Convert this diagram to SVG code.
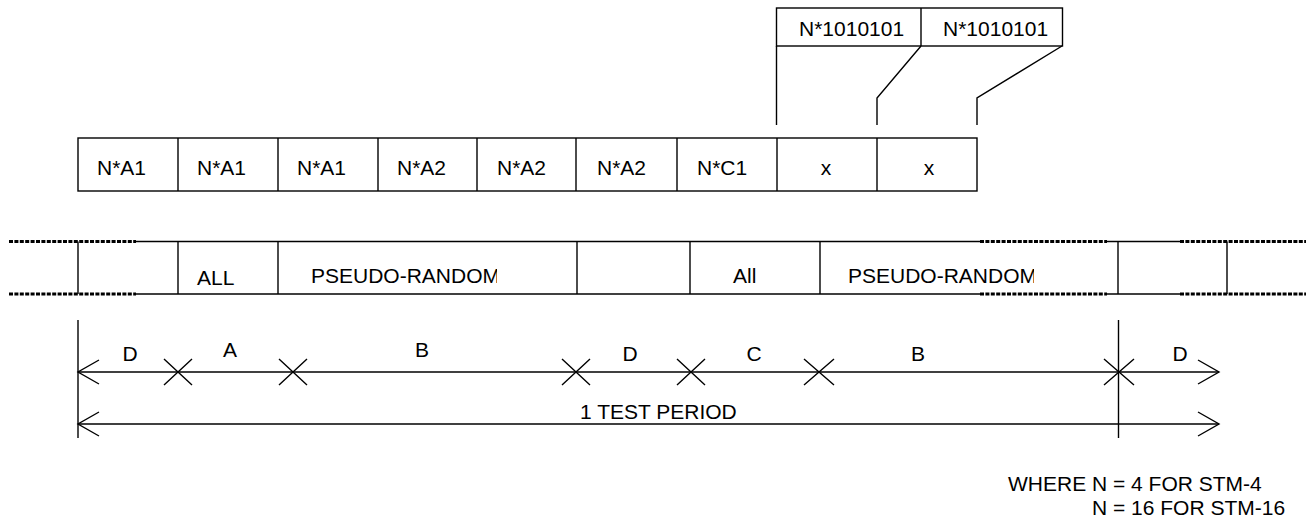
<svg xmlns="http://www.w3.org/2000/svg" width="1306" height="521" viewBox="0 0 1306 521">
<style>
  .ln { stroke: #000; stroke-width: 1.4; fill: none; }
  .dash { stroke: #000; stroke-width: 3; stroke-dasharray: 4 1.4; fill: none; }
  .box { stroke: #000; stroke-width: 1.4; fill: #fff; }
  text { font-family: "Liberation Sans", Arial, sans-serif; font-size: 21px; fill: #000; }
  .m { text-anchor: middle; }
</style>
<defs>
  <clipPath id="clipPR1"><rect x="300" y="250" width="197" height="40"/></clipPath>
  <clipPath id="clipPR2"><rect x="840" y="250" width="194" height="40"/></clipPath>
</defs>
<rect width="1306" height="521" fill="#fff"/>

<g id="pattern-boxes">
  <rect class="box" x="776.5" y="8" width="286" height="38"/>
  <line class="ln" x1="921" y1="8" x2="921" y2="46"/>
  <text x="799" y="36">N*1010101</text>
  <text x="943" y="36">N*1010101</text>
</g>

<g id="frame-row">
  <rect class="box" x="78" y="138" width="899" height="53"/>
  <line class="ln" x1="178" y1="138" x2="178" y2="191"/>
  <line class="ln" x1="278" y1="138" x2="278" y2="191"/>
  <line class="ln" x1="378" y1="138" x2="378" y2="191"/>
  <line class="ln" x1="477" y1="138" x2="477" y2="191"/>
  <line class="ln" x1="576" y1="138" x2="576" y2="191"/>
  <line class="ln" x1="677" y1="138" x2="677" y2="191"/>
  <line class="ln" x1="777" y1="138" x2="777" y2="191"/>
  <line class="ln" x1="877" y1="138" x2="877" y2="191"/>
  <text x="97" y="175">N*A1</text>
  <text x="197" y="175">N*A1</text>
  <text x="297" y="175">N*A1</text>
  <text x="397" y="175">N*A2</text>
  <text x="497" y="175">N*A2</text>
  <text x="597" y="175">N*A2</text>
  <text x="697" y="175">N*C1</text>
  <text class="m" x="826" y="175">x</text>
  <text class="m" x="929" y="175">x</text>
</g>

<g id="connectors">
  <polyline class="ln" points="776.5,46 776.5,125"/>
  <polyline class="ln" points="921,46 877,98 877,125"/>
  <polyline class="ln" points="1062,46 977,98 977,125"/>
</g>

<g id="signal-band">
  <line class="dash" x1="9" y1="241.5" x2="136" y2="241.5"/>
  <line class="ln" x1="136" y1="241.5" x2="980" y2="241.5"/>
  <line class="dash" x1="980" y1="241.5" x2="1107" y2="241.5"/>
  <line class="ln" x1="1107" y1="241.5" x2="1180" y2="241.5"/>
  <line class="dash" x1="1180" y1="241.5" x2="1306" y2="241.5"/>
  <line class="dash" x1="9" y1="294" x2="136" y2="294"/>
  <line class="ln" x1="136" y1="294" x2="980" y2="294"/>
  <line class="dash" x1="980" y1="294" x2="1107" y2="294"/>
  <line class="ln" x1="1107" y1="294" x2="1180" y2="294"/>
  <line class="dash" x1="1180" y1="294" x2="1306" y2="294"/>
  <line class="ln" x1="78" y1="241.5" x2="78" y2="294"/>
  <line class="ln" x1="178" y1="241.5" x2="178" y2="294"/>
  <line class="ln" x1="278" y1="241.5" x2="278" y2="294"/>
  <line class="ln" x1="577" y1="241.5" x2="577" y2="294"/>
  <line class="ln" x1="690" y1="241.5" x2="690" y2="294"/>
  <line class="ln" x1="820" y1="241.5" x2="820" y2="294"/>
  <line class="ln" x1="1118" y1="241.5" x2="1118" y2="294"/>
  <line class="ln" x1="1227" y1="241.5" x2="1227" y2="294"/>
  <text x="197" y="285">ALL</text>
  <text x="311" y="283" clip-path="url(#clipPR1)">PSEUDO-RANDOM</text>
  <text x="733" y="283">All</text>
  <text x="848" y="283" clip-path="url(#clipPR2)">PSEUDO-RANDOM</text>
</g>

<g id="timing">
  <line class="ln" x1="78" y1="320" x2="78" y2="438"/>
  <line class="ln" x1="1118.5" y1="320" x2="1118.5" y2="438"/>
  <line class="ln" x1="78" y1="372" x2="1219" y2="372"/>
  <line class="ln" x1="78" y1="424" x2="1219" y2="424"/>
  <polyline class="ln" points="99,360 78,372 99,384"/>
  <polyline class="ln" points="99,412 78,424 99,436"/>
  <polyline class="ln" points="1198,360 1219,372 1198,384"/>
  <polyline class="ln" points="1198,412 1219,424 1198,436"/>
  <path class="ln" d="M164,359 L192,385 M164,385 L192,359"/>
  <path class="ln" d="M279,359 L307,385 M279,385 L307,359"/>
  <path class="ln" d="M562,359 L590,385 M562,385 L590,359"/>
  <path class="ln" d="M677,359 L705,385 M677,385 L705,359"/>
  <path class="ln" d="M804,359 L834,385 M804,385 L834,359"/>
  <path class="ln" d="M1104,359 L1134,385 M1104,385 L1134,359"/>
  <text class="m" x="130" y="361">D</text>
  <text class="m" x="230" y="357">A</text>
  <text class="m" x="422" y="357">B</text>
  <text class="m" x="630" y="361">D</text>
  <text class="m" x="754" y="361">C</text>
  <text class="m" x="918" y="361">B</text>
  <text class="m" x="1180" y="361">D</text>
  <text x="580" y="419">1 TEST PERIOD</text>
</g>

<g id="note">
  <text x="1008" y="491">WHERE N = 4 FOR STM-4</text>
  <text x="1092" y="515">N = 16 FOR STM-16</text>
</g>
</svg>
